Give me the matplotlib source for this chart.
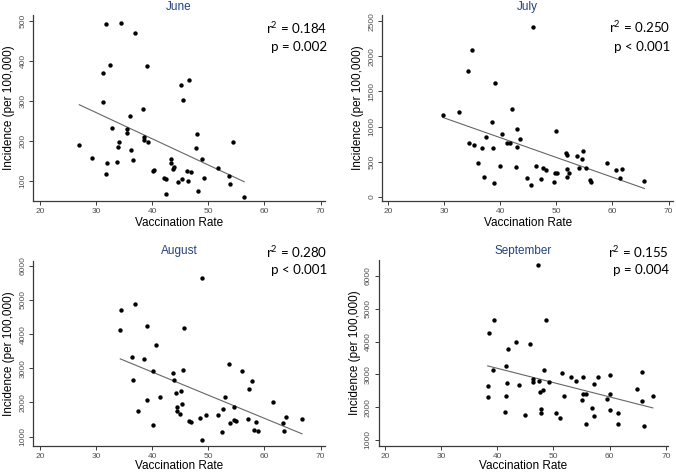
import numpy as np
import matplotlib
matplotlib.use("Agg")
import matplotlib.pyplot as plt

plt.rcParams['font.family'] = ['Liberation Sans', 'DejaVu Sans']
plt.rcParams['mathtext.fontset'] = 'custom'
plt.rcParams['mathtext.rm'] = 'Lato'
plt.rcParams['mathtext.it'] = 'Lato:italic'

# ---------------- data ----------------
june_x = [27.0, 29.2, 31.8, 34.4, 36.9, 31.2, 32.5, 39.1, 31.3, 45.2, 46.6, 45.5, 38.3, 36.1,
          32.8, 35.5, 35.5, 38.5, 38.5, 39.3, 34.0, 33.9, 36.2, 36.6, 32.0, 33.8, 31.8, 40.2,
          40.3, 43.4, 43.3, 43.9, 43.7, 42.1, 42.4, 42.4, 44.6, 45.3, 46.2, 46.9, 46.4, 47.9,
          47.8, 48.8, 49.2, 48.1, 51.8, 53.7, 53.8, 54.4, 56.4]
june_y = [191, 157, 492, 494, 470, 371, 389, 388, 297, 341, 352, 302, 279, 263,
          232, 230, 221, 210, 202, 197, 197, 186, 177, 152, 145, 147, 118, 124,
          127, 154, 144, 136, 129, 107, 104, 67, 97, 106, 126, 122, 99, 217,
          182, 156, 108, 76, 132, 113, 92, 198, 61]

july_x = [29.8, 32.7, 34.3, 35.0, 45.9, 39.1, 42.1, 38.5, 43.0, 40.3, 43.6, 37.5, 50.0,
          34.5, 35.4, 36.7, 38.8, 41.3, 41.8, 43.0, 36.0, 40.0, 42.9, 46.4, 37.2, 38.9,
          44.8, 45.5, 47.2, 47.7, 48.1, 49.7, 50.1, 49.6, 51.7, 52.0, 51.9, 52.3, 52.0,
          53.7, 54.7, 54.5, 54.1, 55.3, 56.0, 56.1, 59.0, 60.7, 61.7, 61.4, 65.7]
july_y = [1160, 1207, 1797, 2091, 2424, 1621, 1255, 1060, 970, 894, 827, 851, 932,
          765, 737, 699, 699, 760, 760, 713, 480, 442, 423, 437, 280, 200,
          271, 171, 247, 413, 385, 342, 337, 209, 618, 594, 399, 333, 276,
          585, 656, 542, 414, 404, 233, 209, 480, 385, 394, 271, 228]

aug_x = [34.4, 34.3, 36.9, 39.0, 48.9, 45.7, 40.6, 36.4, 38.6, 40.2, 36.6, 43.7, 43.8,
         45.4, 44.2, 45.2, 41.4, 39.0, 37.4, 40.1, 44.5, 44.5, 44.9, 45.3, 46.5, 47.0,
         48.6, 49.5, 48.8, 51.7, 52.7, 52.4, 53.0, 53.6, 54.6, 54.5, 54.9, 53.9, 56.0,
         57.7, 57.3, 57.1, 58.5, 58.1, 58.8, 61.6, 63.4, 63.9, 63.5, 66.7]
aug_y = [4707, 4114, 4873, 4250, 5632, 4182, 3676, 3335, 3267, 2917, 2654, 2849, 2644,
         2946, 2265, 2323, 2158, 2061, 1759, 1350, 1856, 1749, 1662, 1944, 1457, 1428,
         1545, 1632, 903, 1623, 1798, 1126, 2148, 3131, 1866, 1496, 1457, 1389, 2907,
         2625, 2401, 1525, 1428, 1195, 1165, 2022, 1399, 1564, 1165, 1506]

sep_x = [47.2, 48.6, 39.5, 38.6, 43.3, 45.9, 42.0, 41.5, 39.2, 48.3, 38.3, 38.3, 41.8,
         43.8, 41.6, 41.3, 44.9, 46.3, 46.4, 47.5, 49.2, 47.6, 48.2, 47.8, 47.8, 51.6,
         51.9, 50.5, 51.1, 53.1, 54.0, 55.3, 55.2, 55.1, 55.8, 55.8, 57.2, 57.9, 56.8,
         57.2, 60.1, 60.0, 59.5, 60.1, 61.5, 61.5, 64.8, 65.7, 65.8, 66.1, 67.7]
sep_y = [6334, 4658, 4668, 4261, 3987, 3936, 3774, 3245, 3144, 3144, 2656, 2321, 2737,
         2687, 2351, 1853, 1762, 2849, 2768, 2798, 2758, 2463, 2534, 1955, 1813, 3032,
         2341, 1833, 1681, 2930, 2788, 2930, 2412, 2219, 2412, 1478, 2697, 2930, 1975,
         1742, 2991, 2412, 2240, 1904, 1833, 1488, 2554, 3083, 2199, 1427, 2351]

titles = ["June", "July", "August", "September"]
r2_labels = ["0.184", "0.250", "0.280", "0.155"]
p_labels = ["p = 0.002", "p < 0.001", "p < 0.001", "p = 0.004"]
x_ticks = [20, 30, 40, 50, 60, 70]
y_ticks = [[100, 200, 300, 400, 500],
           [0, 500, 1000, 1500, 2000, 2500],
           [1000, 2000, 3000, 4000, 5000, 6000],
           [1000, 2000, 3000, 4000, 5000, 6000]]

xs = [june_x, july_x, aug_x, sep_x]
ys = [june_y, july_y, aug_y, sep_y]

# ---------------- layout (pixels) ----------------
W, H = 676, 474
fig = plt.figure(figsize=(W / 100, H / 100), dpi=100)

boxes = [(33.3, 325, 15, 201), (382.3, 673, 15, 201),
         (33.3, 325, 261, 446), (378.7, 668, 260, 446)]
xlims = [(18.8, 70.8), (19.0, 70.8), (18.8, 70.8), (18.9, 70.4)]
ylims = [(50, 515), (-62, 2590), (728, 6137), (817, 6486)]
title_y = [7, 7, 251, 251]
r2_pos = [(327, 28), (670, 27), (327, 252), (669, 252)]
p_pos = [(327, 47), (670, 47), (327, 270), (669, 270)]
xlab_y = [223, 223, 466, 466]

title_color = '#24427e'
axis_color = '#3a3a3a'
tick_color = '#505050'

for i in range(4):
    l, r, t, b = boxes[i]
    ax = fig.add_axes([l / W, (H - b) / H, (r - l) / W, (b - t) / H])
    x = np.array(xs[i]); y = np.array(ys[i])
    ax.scatter(x, y, s=10, color='black', zorder=3, linewidths=0)
    k, c = np.polyfit(x, y, 1)
    xx = np.array([x.min(), x.max()])
    ax.plot(xx, k * xx + c, color='#666666', lw=0.8, zorder=2)
    ax.set_xlim(*xlims[i]); ax.set_ylim(*ylims[i])
    ax.set_xticks(x_ticks)
    ax.set_yticks(y_ticks[i])
    for s in ['top', 'right']:
        ax.spines[s].set_visible(False)
    for s in ['left', 'bottom']:
        ax.spines[s].set_color(axis_color)
        ax.spines[s].set_linewidth(0.9)
    ax.tick_params(axis='both', length=3, width=0.7, color=axis_color,
                   labelsize=6, labelcolor=tick_color, pad=2)
    for lab in ax.get_yticklabels():
        lab.set_rotation(90)
        lab.set_va('center')
    ax.set_ylabel("Incidence (per 100,000)", fontsize=8.5, labelpad=3)
    cx = (l + r) / 2
    fig.text(cx / W, 1 - xlab_y[i] / H, "Vaccination Rate", ha='center', va='center',
             fontsize=8.5)
    fig.text(cx / W, 1 - title_y[i] / H, titles[i], ha='center', va='center',
             fontsize=8.5, color=title_color)
    fig.text(r2_pos[i][0] / W, 1 - r2_pos[i][1] / H, "r$^{2}$ = " + r2_labels[i],
             ha='right', va='center', fontsize=9.6, family='Lato', color='black')
    fig.text(p_pos[i][0] / W, 1 - p_pos[i][1] / H, p_labels[i],
             ha='right', va='center', fontsize=9.6, family='Lato', color='black')

fig.savefig("out.png", dpi=100)
